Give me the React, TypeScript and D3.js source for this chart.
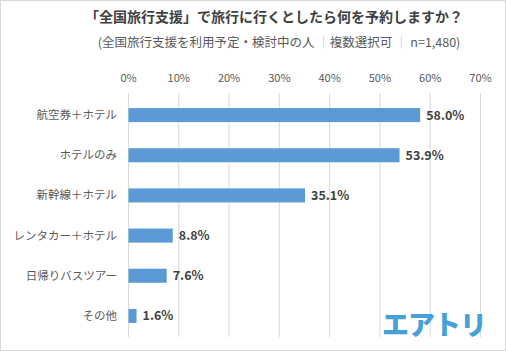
import * as d3 from "d3";

const categories = ["航空券＋ホテル", "ホテルのみ", "新幹線＋ホテル", "レンタカー＋ホテル", "日帰りバスツアー", "その他"];
const values = [58.0, 53.9, 35.1, 8.8, 7.6, 1.6];
const ticks = [0, 10, 20, 30, 40, 50, 60, 70];

const title = "「全国旅行支援」で旅行に行くとしたら何を予約しますか？";

const width = 506;
const height = 351;
const jp = "'Noto Sans CJK JP', 'Noto Sans', sans-serif";

export default function App() {
  const x = d3.scaleLinear().domain([0, 70]).range([128.5, 480.5]);
  const y = d3.scaleBand<string>().domain(categories).range([95, 336]).paddingInner(0.65).paddingOuter(0.325);

  return (
    <svg width={width} height={height} style={{ position: "absolute", left: 0, top: 0 }} fontFamily={jp}>
      <rect x={0.5} y={0.5} width={width - 1} height={height - 1} fill="#fff" stroke="#d9d9d9" />
      <text x={274} y={22} textAnchor="middle" fontSize={14} fontWeight="bold" fill="#404040">{title}</text>
      <text x={279} y={47} textAnchor="middle" fontSize={12.5} fill="#595959">
        (全国旅行支援を利用予定・検討中の人
        <tspan fill="#9dc3e6"> ｜</tspan>複数選択可
        <tspan fill="#9dc3e6"> ｜ </tspan> n=1,480)
      </text>
      {ticks.map(t => (
        <g key={t}>
          <line x1={x(t)} x2={x(t)} y1={93} y2={337} stroke="#d9d9d9" />
          <text x={x(t)} y={82} textAnchor="middle" fontSize={11} fill="#595959">{t}%</text>
        </g>
      ))}
      {categories.map((c, i) => {
        const yy = y(c) ?? 0;
        const cy = yy + y.bandwidth() / 2;
        return (
          <g key={c}>
            <rect x={x(0)} y={yy} width={x(values[i]) - x(0)} height={y.bandwidth()} fill="#5b9bd5" />
            <text x={117} y={cy} dy="0.35em" textAnchor="end" fontSize={11.5} fill="#595959">{c}</text>
            <text x={x(values[i]) + 6} y={cy} dy="0.36em" fontSize={12.5} fontWeight="bold" fill="#404040">{values[i].toFixed(1)}%</text>
          </g>
        );
      })}
      <text x={434} y={335} textAnchor="middle" fontSize={27} fontWeight="900" fill="#45a1d6" letterSpacing={-1}>エアトリ</text>
    </svg>
  );
}
